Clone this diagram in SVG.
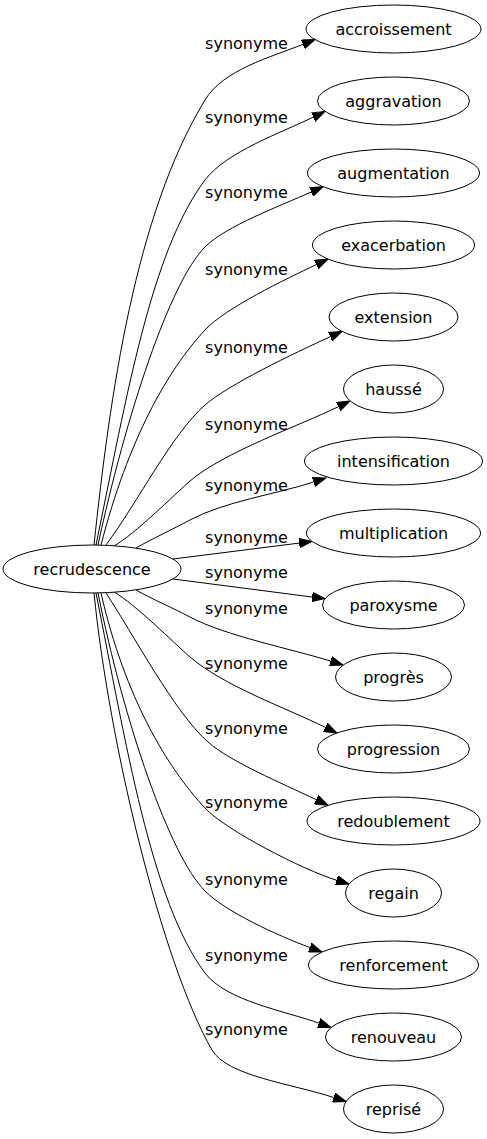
<svg xmlns="http://www.w3.org/2000/svg" width="487" height="1139" viewBox="0 0 487 1139">
<style>
.n ellipse{fill:#fff;stroke:#000;stroke-width:1}
.n text{font-family:"DejaVu Sans",sans-serif;font-size:16px;fill:#000;text-anchor:middle}
.e path{fill:none;stroke:#000;stroke-width:1;marker-end:url(#arr)}
.e text{font-family:"DejaVu Sans",sans-serif;font-size:16px;fill:#000;text-anchor:middle}
</style>
<defs>
<marker id="arr" markerUnits="userSpaceOnUse" viewBox="0 -5 14 10" markerWidth="14" markerHeight="10" refX="0" refY="0" orient="auto">
<path d="M0,-4.7 L13,0 L0,4.7 Z" fill="#000" stroke="#000" stroke-width="1"/>
</marker>
</defs>
<rect x="0" y="0" width="487" height="1139" fill="#fff"/>
<g id="edges" class="e">
<path d="M94,545 C110,395 135,215 205,100 C223,70 270,57.4 302.9,44.4"/>
<path d="M96,545 C127,395 151,252 205,180 C226,152 281.8,132.5 313.3,117.1"/>
<path d="M98,545 C126,415 170,282 205,247 C226.2,225.8 279.3,206.4 311.2,192"/>
<path d="M101,545 C128,440 167.6,370 205,330 C225.4,308 284.8,279.6 316.3,264.6"/>
<path d="M106,545 C138,502 171.3,434.7 205,405 C227.5,385.2 293.8,353.2 330.2,336.8"/>
<path d="M114,546 C135,534 174,495 190,481 C224,452 297.8,426.5 338.3,406.7"/>
<path d="M136,548 C151.7,539 174.2,528.5 190,520 C225.2,501.2 275.6,494.4 313.6,482"/>
<path d="M173,559 L299.1,543.1"/>
<path d="M173,579 L312.1,597"/>
<path d="M136,590 C151.7,599 174.2,608.5 190,617 C225.2,635.8 292.4,649.1 330.6,661.1"/>
<path d="M114,592 C135,604 174,643 190,657 C224,686 284.8,707.5 325.3,727.3"/>
<path d="M106,593 C133.5,634.5 174.25,712.3 208,742 C230.5,761.8 280.3,782.5 316.3,799.7"/>
<path d="M101,593 C125,698 167.6,768 205,808 C225.4,830 303.1,870 336.6,880.2"/>
<path d="M98,593 C124,723 170,856 205,891 C226,912 277,935.25 309.8,947.5"/>
<path d="M96,593 C126,743 151,901 205,973 C226,1001 285.9,1011.2 318.8,1023.1"/>
<path d="M94,593 C109,743 162,963.4 212,1050 C227,1076 291,1083.5 333.7,1097.5"/>
<text x="246.5" y="49">synonyme</text>
<text x="246.5" y="123">synonyme</text>
<text x="246.5" y="198">synonyme</text>
<text x="246.5" y="275">synonyme</text>
<text x="246.5" y="353">synonyme</text>
<text x="246.5" y="430">synonyme</text>
<text x="246.5" y="491">synonyme</text>
<text x="246.5" y="543">synonyme</text>
<text x="246.5" y="578">synonyme</text>
<text x="246.5" y="614">synonyme</text>
<text x="246.5" y="669">synonyme</text>
<text x="246.5" y="734">synonyme</text>
<text x="246.5" y="808">synonyme</text>
<text x="246.5" y="885">synonyme</text>
<text x="246.5" y="961">synonyme</text>
<text x="246.5" y="1035">synonyme</text>
</g>
<g id="recrudescence" class="n"><ellipse cx="92" cy="569" rx="89" ry="24"/><text x="92" y="574.5">recrudescence</text></g>
<g id="accroissement" class="n"><ellipse cx="393.5" cy="29" rx="87.5" ry="24"/><text x="393.5" y="34.5">accroissement</text></g>
<g id="aggravation" class="n"><ellipse cx="393.5" cy="101" rx="76" ry="24"/><text x="393.5" y="106.5">aggravation</text></g>
<g id="augmentation" class="n"><ellipse cx="393.5" cy="173" rx="86" ry="24"/><text x="393.5" y="178.5">augmentation</text></g>
<g id="exacerbation" class="n"><ellipse cx="393.5" cy="245" rx="81" ry="24"/><text x="393.5" y="250.5">exacerbation</text></g>
<g id="extension" class="n"><ellipse cx="393.5" cy="317" rx="64.5" ry="24"/><text x="393.5" y="322.5">extension</text></g>
<g id="hausse" class="n"><ellipse cx="393.5" cy="389" rx="50" ry="24"/><text x="393.5" y="394.5">haussé</text></g>
<g id="intensification" class="n"><ellipse cx="393.5" cy="461" rx="89" ry="24"/><text x="393.5" y="466.5">intensification</text></g>
<g id="multiplication" class="n"><ellipse cx="393.5" cy="533" rx="87" ry="24"/><text x="393.5" y="538.5">multiplication</text></g>
<g id="paroxysme" class="n"><ellipse cx="393.5" cy="605" rx="71" ry="24"/><text x="393.5" y="610.5">paroxysme</text></g>
<g id="progres" class="n"><ellipse cx="393.5" cy="677" rx="58" ry="24"/><text x="393.5" y="682.5">progrès</text></g>
<g id="progression" class="n"><ellipse cx="393.5" cy="749" rx="76" ry="24"/><text x="393.5" y="754.5">progression</text></g>
<g id="redoublement" class="n"><ellipse cx="393.5" cy="821" rx="86.5" ry="24"/><text x="393.5" y="826.5">redoublement</text></g>
<g id="regain" class="n"><ellipse cx="393.5" cy="893" rx="48" ry="24"/><text x="393.5" y="898.5">regain</text></g>
<g id="renforcement" class="n"><ellipse cx="393.5" cy="965" rx="85" ry="24"/><text x="393.5" y="970.5">renforcement</text></g>
<g id="renouveau" class="n"><ellipse cx="393.5" cy="1037" rx="68" ry="24"/><text x="393.5" y="1042.5">renouveau</text></g>
<g id="reprise" class="n"><ellipse cx="393.5" cy="1109" rx="50" ry="24"/><text x="393.5" y="1114.5">reprisé</text></g>
</svg>
